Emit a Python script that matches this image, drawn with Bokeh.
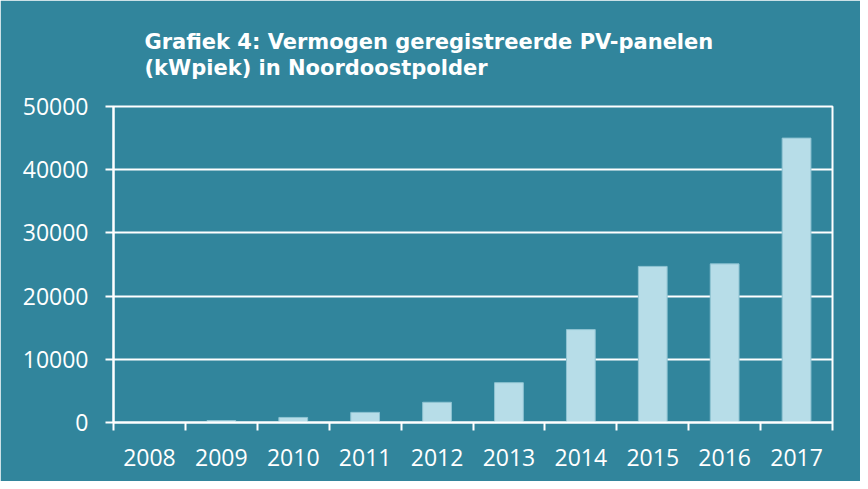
from bokeh.plotting import figure
from bokeh.models import Range1d, FixedTicker
from bokeh.embed import file_html
from bokeh.resources import INLINE

years = ["2008", "2009", "2010", "2011", "2012", "2013", "2014", "2015", "2016", "2017"]
values = [50, 300, 800, 1600, 3200, 6300, 14700, 24700, 25100, 45000]
y_ticks = [0, 10000, 20000, 30000, 40000, 50000]
title_lines = ["Grafiek 4: Vermogen geregistreerde PV-panelen", "(kWpiek) in Noordoostpolder"]

TEAL = "#31859C"
BAR = "#B7DDE8"
FONT = "Open Sans"

centers = [i + 0.5 for i in range(len(years))]
bounds = [float(i) for i in range(len(years) + 1)]

p = figure(frame_width=719, frame_height=316,
           min_border_left=113, min_border_right=28, min_border_top=106, min_border_bottom=59,
           x_range=Range1d(0, len(years)), y_range=Range1d(y_ticks[0], y_ticks[-1]),
           output_backend="svg", toolbar_location=None)
p.background_fill_color = TEAL
p.border_fill_color = TEAL
p.outline_line_color = "white"
p.outline_line_width = 2

p.title.text = "\n".join(title_lines)
p.title.text_color = "white"
p.title.text_font = "DejaVu Sans"
p.title.text_font_style = "bold"
p.title.text_font_size = "21px"
p.title.align = "left"
p.title.offset = 31
p.title.standoff = 53
p.title.text_line_height = 1.1

p.vbar(x=centers, top=values, width=0.4, bottom=0, fill_color=BAR,
       line_color="#8EC3D2", line_width=1)

p.xgrid.visible = False
p.ygrid.ticker = FixedTicker(ticks=y_ticks)
p.ygrid.grid_line_color = "white"
p.ygrid.grid_line_width = 2

xa = p.xaxis[0]
xa.ticker = FixedTicker(ticks=centers, minor_ticks=bounds)
xa.major_label_overrides = {c: y for c, y in zip(centers, years)}
xa.major_tick_line_color = None
xa.minor_tick_line_color = "white"
xa.minor_tick_line_width = 2
xa.minor_tick_out = 8
xa.minor_tick_in = 0
xa.axis_line_color = "white"
xa.axis_line_width = 2
xa.major_label_text_color = "white"
xa.major_label_text_font = FONT
xa.major_label_text_font_size = "23px"
xa.major_label_standoff = 18

ya = p.yaxis[0]
ya.ticker = FixedTicker(ticks=y_ticks)
ya.major_label_overrides = {t: str(t) for t in y_ticks}
ya.minor_tick_line_color = None
ya.major_tick_line_color = "white"
ya.major_tick_line_width = 2
ya.major_tick_out = 8
ya.major_tick_in = 0
ya.axis_line_color = "white"
ya.axis_line_width = 2
ya.major_label_text_color = "white"
ya.major_label_text_font = FONT
ya.major_label_text_font_size = "23px"
ya.major_label_standoff = 17

open("out.html", "w").write(file_html(p, INLINE))
